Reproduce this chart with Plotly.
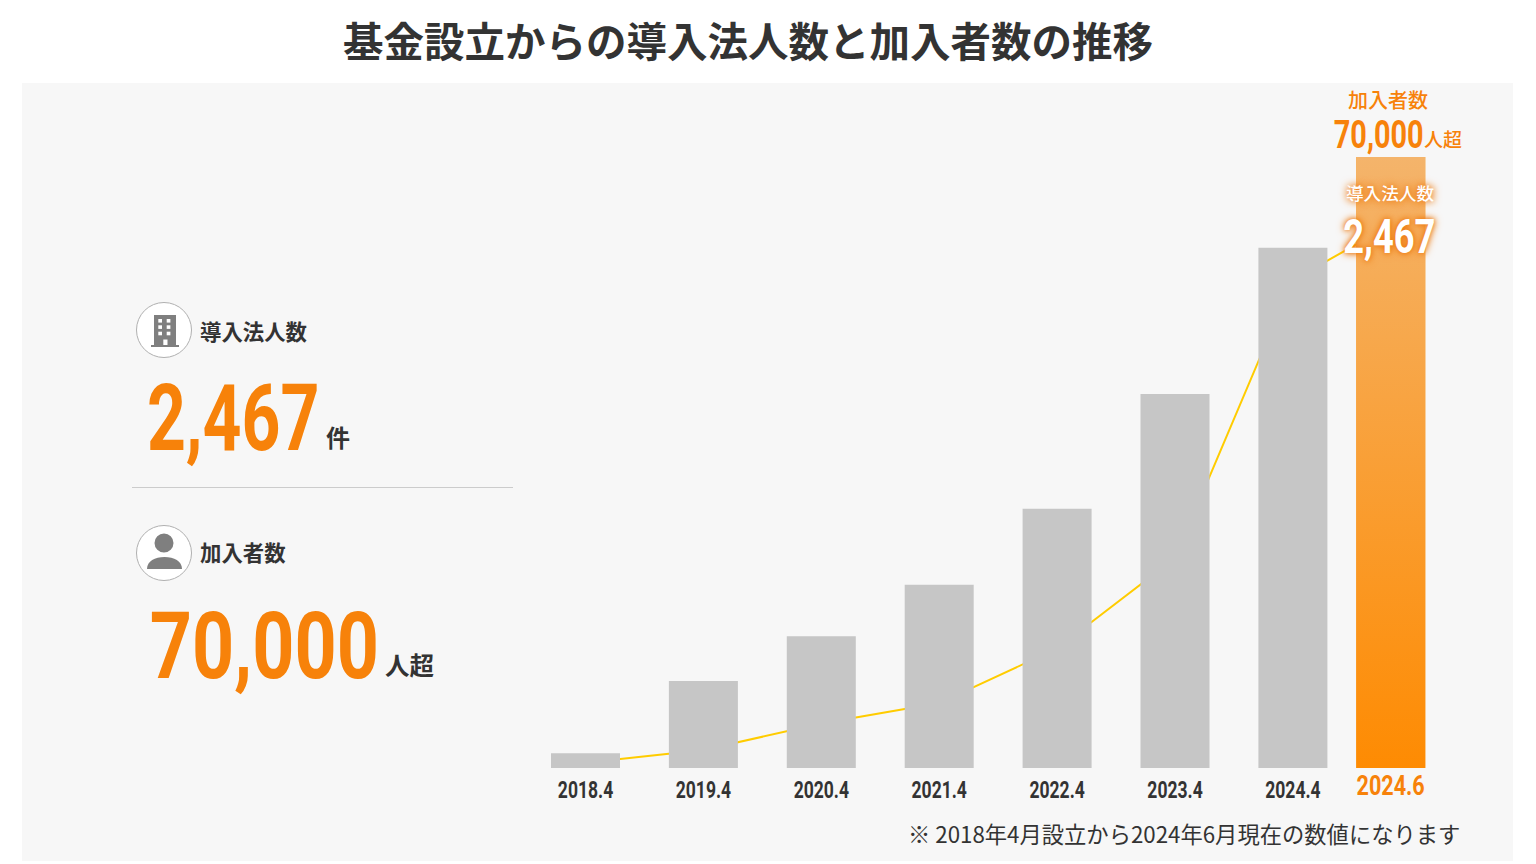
import json
import plotly.graph_objects as go

# ---- data ----
categories = ["2018.4", "2019.4", "2020.4", "2021.4", "2022.4", "2023.4", "2024.4", "2024.6"]
slots = [0, 1, 2, 3, 4, 5, 6, 6.83]
members = [1700, 9970, 15100, 21000, 29700, 42850, 59600, 70000]
corporations = [24, 82, 202, 295, 543, 954, 2217, 2467]

TITLE = "基金設立からの導入法人数と加入者数の推移"
NOTE = "※ 2018年4月設立から2024年6月現在の数値になります"

W, H = 1536, 864
CJK = "Noto Sans CJK JP"
DIN = "Roboto, sans-serif"
ORANGE = "#f7820a"
DARK = "#333333"
GREY = "#c6c6c6"
ICON = "#7f7f7f"
LINE = "#ffcc00"
PANEL = "#f7f7f7"

# horizontal squeeze per Roboto font size, since no DIN-like condensed face is installed
SQUEEZE = {24: 0.73, 93: 0.73, 92: 0.80, 39: 0.74, 49: 0.74, 27: 0.80}


def X(px):
    return px / W


def Y(py):
    return 1 - py / H


# axis calibration
SLOT_PX = 117.9
X0_PX = 585.5
BASE_PX, TOP_PX, LINE_TOP_PX = 768, 157, 225
BAR_W = 69 / SLOT_PX

x_range = [-X0_PX / SLOT_PX, (W - X0_PX) / SLOT_PX]
line_max = corporations[-1] * (BASE_PX - TOP_PX) / (BASE_PX - LINE_TOP_PX)

fig = go.Figure()

fig.add_trace(go.Scatter(
    x=slots, y=corporations, mode="lines", yaxis="y", xaxis="x",
    line=dict(color=LINE, width=2), name="導入法人数", showlegend=False,
))

bar_colors = [GREY] * (len(categories) - 1) + ["#fb9a22"]
fig.add_trace(go.Bar(
    x=slots, y=members, yaxis="y2", xaxis="x", width=BAR_W,
    marker=dict(color=bar_colors, line=dict(width=0)), name="加入者数", showlegend=False,
))

# gradient skin over the last bar, derived from the last data point
s, v = slots[-1], members[-1]
fig.add_trace(go.Scatter(
    x=[s - BAR_W / 2, s + BAR_W / 2, s + BAR_W / 2, s - BAR_W / 2, s - BAR_W / 2],
    y=[0, 0, v, v, 0], yaxis="y2", xaxis="x", mode="lines", line=dict(width=0),
    fill="toself",
    fillgradient=dict(type="vertical", colorscale=[[0, "#fe8b02"], [1, "#f4b46b"]]),
    hoverinfo="skip", showlegend=False,
))

shapes = [
    dict(type="rect", xref="paper", yref="paper", x0=X(22), x1=X(1513), y0=Y(861), y1=Y(83),
         fillcolor=PANEL, line=dict(width=0), layer="below"),
    dict(type="line", xref="paper", yref="paper", x0=X(132), x1=X(513), y0=Y(487.5), y1=Y(487.5),
         line=dict(color="#cccccc", width=1), layer="below"),
]


def rect(x0, y0, x1, y1, color):
    shapes.append(dict(type="rect", xref="paper", yref="paper", x0=X(x0), x1=X(x1), y0=Y(y1), y1=Y(y0),
                       fillcolor=color, line=dict(width=0)))


def circle(cx, cy, r, fill, line=None):
    shapes.append(dict(type="circle", xref="paper", yref="paper", x0=X(cx - r), x1=X(cx + r),
                       y0=Y(cy + r), y1=Y(cy - r), fillcolor=fill,
                       line=dict(color=line or fill, width=1 if line else 0)))


# building icon
circle(164, 330, 27.5, "#ffffff", "#b0b0b0")
rect(154, 315, 176, 345, ICON)
rect(151, 345, 179, 347, ICON)
for wy in (319, 325.3, 331.7):
    for wx in (158.3, 166.7):
        rect(wx, wy, wx + 3.7, wy + 3.6, "#ffffff")
rect(163.3, 339.5, 167.5, 345, "#ffffff")

# person icon
circle(164, 553, 27.5, "#ffffff", "#b0b0b0")
circle(164, 543, 9.5, ICON)
shapes.append(dict(
    type="path", xref="paper", yref="paper", fillcolor=ICON, line=dict(width=0),
    path=f"M {X(147)},{Y(569)} C {X(147)},{Y(561)} {X(155)},{Y(557)} {X(164.5)},{Y(557)} "
         f"C {X(174)},{Y(557)} {X(182)},{Y(561)} {X(182)},{Y(569)} Z",
))


def note(text, x, y, size, color=DARK, family=CJK, weight="bold", anchor="left", shadow=None):
    f = dict(family=family, size=size, color=color, weight=weight)
    if shadow:
        f["shadow"] = shadow
    return dict(text=text, xref="paper", yref="paper", x=X(x), y=Y(y), xanchor=anchor, yanchor="middle",
                showarrow=False, font=f)


GLOW = "0 0 6px #ee7a10, 0 0 10px #ee7a10"
annotations = [
    note("導入法人数", 197.5, 330.5, 21.4),
    note("2,467", 233, 418, 93, ORANGE, DIN, anchor="center"),
    note("件", 324, 436.5, 24),
    note("加入者数", 197.5, 551.5, 21.4),
    note("70,000", 264, 646.5, 92, ORANGE, DIN, anchor="center"),
    note("人超", 382.5, 664.5, 24.5),
    note("加入者数", 1387.5, 99.5, 20, ORANGE, weight=500, anchor="center"),
    note("70,000", 1378, 135, 39, ORANGE, DIN, anchor="center"),
    note("人超", 1421.5, 138.5, 19, ORANGE, weight=500),
    note("導入法人数", 1390, 192, 17.6, "#ffffff", weight=500, anchor="center", shadow=GLOW),
    note("2,467", 1389.5, 236, 49, "#ffffff", DIN, anchor="center", shadow=GLOW),
    note(NOTE, 905.5, 833, 22.3, DARK, weight=400),
    dict(text=categories[-1], xref="x", yref="paper", x=slots[-1], y=Y(786), xanchor="center", yanchor="middle",
         showarrow=False, font=dict(family=DIN, size=27, color=ORANGE, weight="bold")),
]

fig.update_layout(
    width=W, height=H, margin=dict(l=0, r=0, t=0, b=0, pad=0),
    paper_bgcolor="#ffffff", plot_bgcolor="rgba(0,0,0,0)", showlegend=False,
    title=dict(text=TITLE, x=748 / W, xanchor="center", xref="paper", y=Y(43), yanchor="middle", yref="paper",
               font=dict(family=CJK, size=40.5, color=DARK, weight="bold")),
    xaxis=dict(domain=[0, 1], range=x_range, tickmode="array", tickvals=slots[:-1], ticktext=categories[:-1],
               showgrid=False, zeroline=False, showline=False, ticks="outside", ticklen=0,
               tickcolor="rgba(0,0,0,0)",
               tickfont=dict(family=DIN, size=24, color=DARK, weight="bold"),
               anchor="y"),
    yaxis=dict(domain=[Y(BASE_PX), Y(TOP_PX)], range=[0, line_max], visible=False, anchor="x"),
    yaxis2=dict(domain=[Y(BASE_PX), Y(TOP_PX)], range=[0, members[-1]], visible=False, overlaying="y", anchor="x"),
    shapes=shapes, annotations=annotations, hovermode=False,
)

post = """
document.body.style.margin='0';document.body.style.overflow='hidden';
var SQ = %s;
document.querySelectorAll('.annotation-text, .xtick text').forEach(function(el){
  var k = SQ[Math.round(parseFloat(el.style.fontSize))];
  if(!k || el.style.fontFamily.indexOf('Roboto') < 0) return;
  el.setAttribute('textLength', el.getComputedTextLength()*k);
  el.setAttribute('lengthAdjust','spacingAndGlyphs');
  var g = el.closest('.annotation-text-g');
  if(g){
    g.querySelectorAll('rect').forEach(function(r){
      var w = parseFloat(r.getAttribute('width')), x = parseFloat(r.getAttribute('x')||0);
      r.setAttribute('x', x + w*(1-k)/2);
      r.setAttribute('width', w*k);
    });
  }
});
""" % json.dumps(SQUEEZE)

fig.write_html("out.html", config=dict(displayModeBar=False), post_script=post)
